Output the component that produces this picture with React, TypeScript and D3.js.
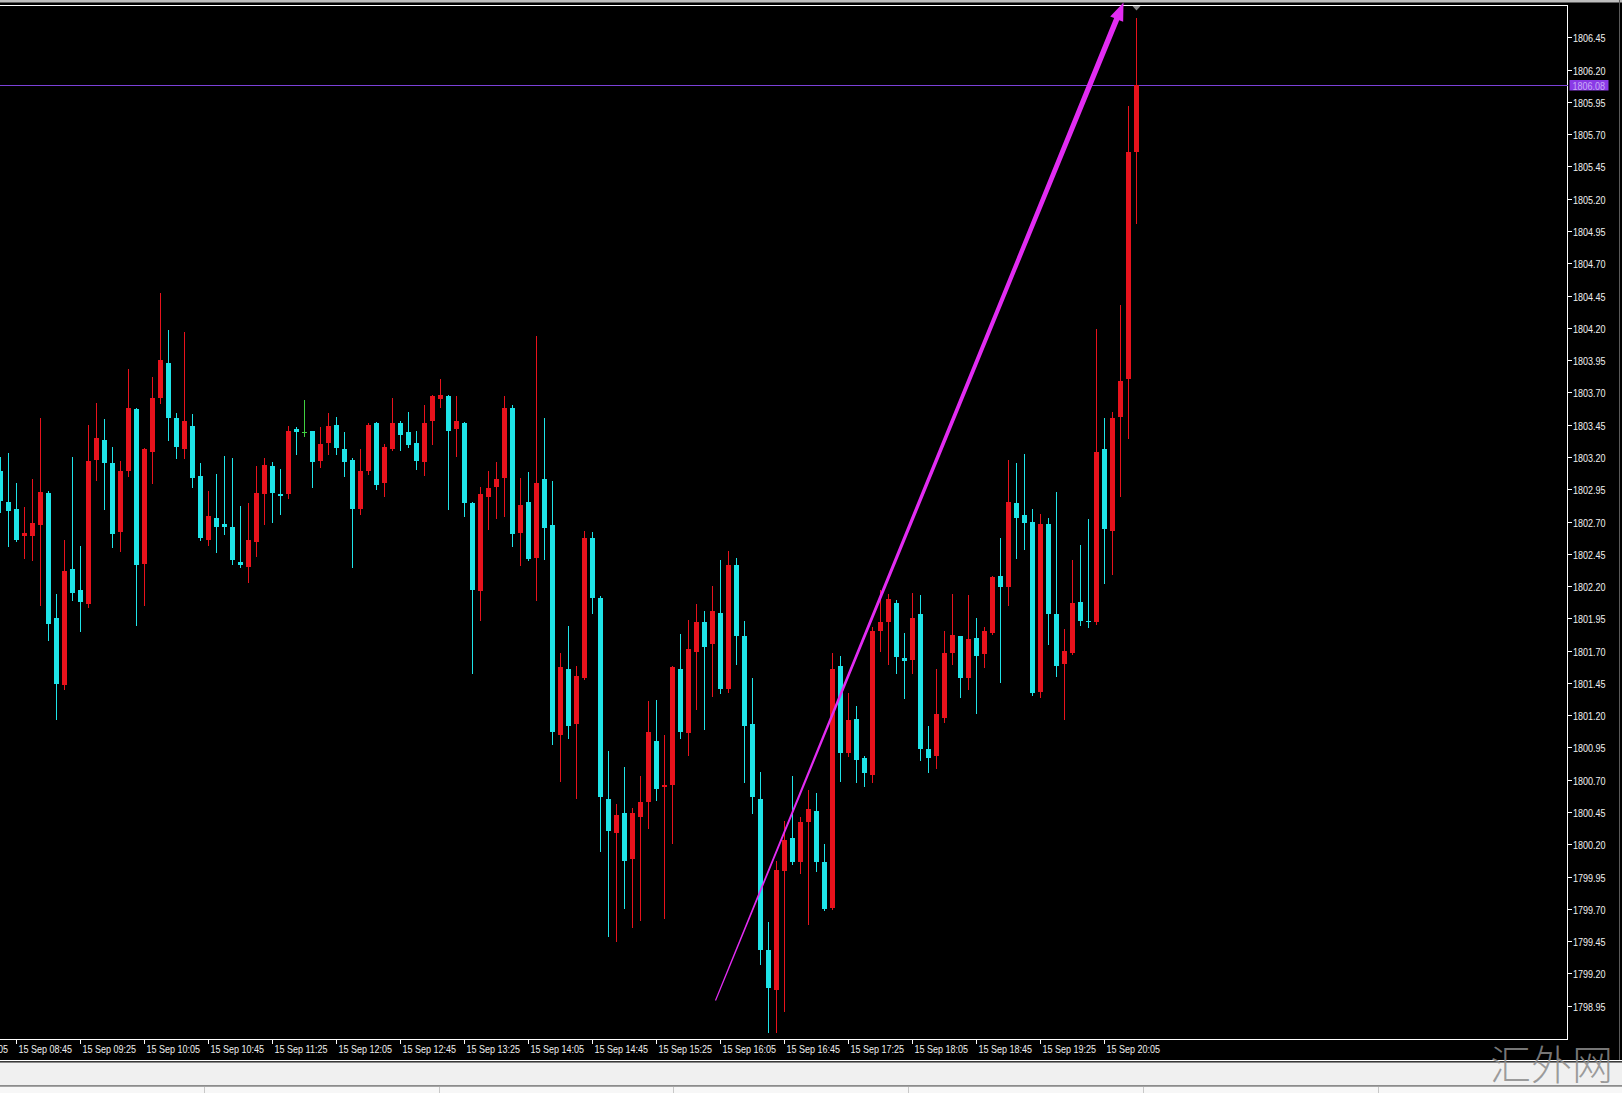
import React from "react";
import * as d3 from "d3";

// ---------- data (5-minute candles, 15 Sep) ----------
const times = [
  "08:35","08:40","08:45","08:50","08:55",
  "09:00","09:05","09:10","09:15","09:20","09:25","09:30","09:35","09:40","09:45","09:50","09:55",
  "10:00","10:05","10:10","10:15","10:20","10:25","10:30","10:35","10:40","10:45","10:50","10:55",
  "11:00","11:05","11:10","11:15","11:20","11:25","11:30","11:35","11:40","11:45","11:50","11:55",
  "12:00","12:05","12:10","12:15","12:20","12:25","12:30","12:35","12:40","12:45","12:50","12:55",
  "13:00","13:05","13:10","13:15","13:20","13:25","13:30","13:35","13:40","13:45","13:50","13:55",
  "14:00","14:05","14:10","14:15","14:20","14:25","14:30","14:35","14:40","14:45","14:50","14:55",
  "15:00","15:05","15:10","15:15","15:20","15:25","15:30","15:35","15:40","15:45","15:50","15:55",
  "16:00","16:05","16:10","16:15","16:20","16:25","16:30","16:35","16:40","16:45","16:50","16:55",
  "17:00","17:05","17:10","17:15","17:20","17:25","17:30","17:35","17:40","17:45","17:50","17:55",
  "18:00","18:05","18:10","18:15","18:20","18:25","18:30","18:35","18:40","18:45","18:50","18:55",
  "19:00","19:05","19:10","19:15","19:20","19:25","19:30","19:35","19:40","19:45","19:50","19:55",
  "20:00","20:05","20:10","20:15","20:20","20:25",
];

const opens = [
  1803.09, 1802.85, 1802.80, 1802.59, 1802.59,
  1802.67, 1802.92, 1801.95, 1801.43, 1802.33, 1802.17, 1802.06, 1803.18, 1803.33, 1803.15, 1802.62, 1803.09,
  1803.57, 1802.37, 1803.24, 1803.66, 1803.93, 1803.50, 1803.26, 1803.44, 1803.05, 1802.56, 1802.73, 1802.68,
  1802.66, 1802.39, 1802.35, 1802.54, 1802.91, 1803.13, 1802.91, 1802.91, 1803.42, 1803.39, 1803.40, 1803.17,
  1803.31, 1803.45, 1803.26, 1803.18, 1802.80, 1803.09, 1803.46, 1803.00, 1803.26, 1803.46, 1803.39, 1803.31,
  1803.16, 1803.48, 1803.65, 1803.67, 1803.42, 1803.46, 1802.84, 1802.16, 1802.89, 1802.97, 1803.04, 1803.58,
  1802.61, 1802.85, 1802.42, 1803.03, 1802.67, 1801.05, 1801.56, 1801.13, 1801.49, 1802.57, 1802.11, 1800.55,
  1800.29, 1800.44, 1800.09, 1800.41, 1800.53, 1801.00, 1800.64, 1800.66, 1801.56, 1801.06, 1801.69, 1801.92,
  1801.75, 1801.99, 1801.40, 1802.36, 1801.81, 1801.13, 1800.55, 1799.38, 1799.07, 1799.99, 1800.25, 1800.06,
  1800.37, 1800.46, 1800.06, 1799.71, 1801.58, 1800.91, 1801.17, 1800.87, 1800.74, 1801.85, 1801.92, 1802.07,
  1801.64, 1801.63, 1801.98, 1800.94, 1800.88, 1801.18, 1801.68, 1801.81, 1801.49, 1801.80, 1801.67, 1801.84,
  1802.28, 1802.19, 1802.84, 1802.75, 1802.70, 1801.38, 1802.68, 1801.98, 1801.60, 1801.68, 1802.08, 1801.93,
  1801.92, 1803.26, 1802.63, 1803.51, 1803.80, 1805.56,
];

const highs = [
  1803.20, 1803.23, 1803.00, 1802.81, 1803.03,
  1803.50, 1802.94, 1802.14, 1802.56, 1803.20, 1802.51, 1803.45, 1803.62, 1803.49, 1803.28, 1803.17, 1803.88,
  1803.58, 1803.27, 1803.82, 1804.47, 1804.18, 1803.54, 1804.17, 1803.53, 1803.15, 1802.94, 1803.07, 1803.21,
  1803.19, 1802.82, 1802.84, 1803.13, 1803.19, 1803.16, 1803.11, 1803.44, 1803.43, 1803.64, 1803.40, 1803.43,
  1803.54, 1803.51, 1803.39, 1803.19, 1803.26, 1803.46, 1803.47, 1803.30, 1803.66, 1803.48, 1803.55, 1803.40,
  1803.60, 1803.68, 1803.80, 1803.68, 1803.67, 1803.47, 1802.85, 1802.97, 1803.09, 1803.16, 1803.67, 1803.60,
  1803.04, 1803.08, 1804.14, 1803.50, 1803.01, 1801.68, 1801.89, 1801.58, 1802.63, 1802.62, 1802.12, 1800.92,
  1800.51, 1800.80, 1800.48, 1800.73, 1801.31, 1801.32, 1801.05, 1801.58, 1801.83, 1801.94, 1802.06, 1802.01,
  1802.20, 1802.40, 1802.47, 1802.42, 1801.93, 1801.49, 1800.76, 1799.60, 1800.07, 1800.38, 1800.73, 1800.41,
  1800.62, 1800.60, 1800.20, 1801.68, 1801.66, 1801.37, 1801.27, 1800.88, 1801.88, 1802.17, 1802.14, 1802.09,
  1801.84, 1802.15, 1802.13, 1801.12, 1801.56, 1801.85, 1802.14, 1801.81, 1802.13, 1801.95, 1801.88, 1802.28,
  1802.57, 1803.18, 1803.15, 1803.22, 1802.80, 1802.76, 1802.73, 1802.93, 1801.87, 1802.40, 1802.52, 1802.72,
  1804.19, 1803.50, 1803.55, 1804.38, 1805.92, 1806.60,
];

const lows = [
  1802.77, 1802.51, 1802.55, 1802.42, 1802.40,
  1802.05, 1801.78, 1801.17, 1801.40, 1802.09, 1801.85, 1802.04, 1803.02, 1802.80, 1802.50, 1802.47, 1803.05,
  1801.90, 1802.05, 1803.00, 1803.62, 1803.33, 1803.19, 1803.19, 1802.97, 1802.56, 1802.52, 1802.46, 1802.60,
  1802.37, 1802.35, 1802.23, 1802.43, 1802.68, 1802.70, 1802.76, 1802.88, 1803.22, 1803.36, 1802.97, 1803.12,
  1803.22, 1803.22, 1803.05, 1802.35, 1802.76, 1803.07, 1802.95, 1802.90, 1803.25, 1803.25, 1803.28, 1803.11,
  1803.06, 1803.30, 1803.59, 1802.80, 1803.21, 1802.74, 1801.53, 1801.94, 1802.64, 1802.73, 1802.74, 1802.51,
  1802.36, 1802.40, 1802.09, 1802.41, 1800.98, 1800.69, 1801.02, 1800.56, 1801.48, 1801.99, 1800.15, 1799.49,
  1799.45, 1799.71, 1799.56, 1799.61, 1800.33, 1800.54, 1799.63, 1800.21, 1801.02, 1800.89, 1801.25, 1801.09,
  1801.35, 1801.37, 1801.38, 1801.60, 1800.68, 1800.44, 1799.27, 1798.75, 1798.75, 1798.91, 1800.05, 1799.98,
  1799.58, 1799.99, 1799.69, 1799.70, 1800.69, 1800.88, 1800.68, 1800.65, 1800.68, 1801.70, 1801.60, 1801.53,
  1801.33, 1801.53, 1800.85, 1800.76, 1800.79, 1801.15, 1801.60, 1801.34, 1801.40, 1801.22, 1801.57, 1801.83,
  1801.46, 1802.05, 1802.42, 1802.49, 1801.36, 1801.34, 1801.75, 1801.50, 1801.17, 1801.67, 1801.90, 1801.88,
  1801.91, 1802.22, 1802.29, 1802.90, 1803.35, 1805.01,
];

const closes = [
  1802.86, 1802.78, 1802.56, 1802.61, 1802.69,
  1802.93, 1801.91, 1801.44, 1802.32, 1802.15, 1802.08, 1803.17, 1803.35, 1803.15, 1802.60, 1803.09, 1803.58,
  1802.36, 1803.26, 1803.66, 1803.95, 1803.50, 1803.28, 1803.48, 1803.04, 1802.57, 1802.74, 1802.66, 1802.66,
  1802.40, 1802.36, 1802.56, 1802.92, 1803.14, 1802.92, 1802.90, 1803.40, 1803.39, 1803.39, 1803.16, 1803.30,
  1803.44, 1803.27, 1803.16, 1802.80, 1803.09, 1803.45, 1802.98, 1803.28, 1803.46, 1803.37, 1803.29, 1803.17,
  1803.46, 1803.67, 1803.68, 1803.40, 1803.48, 1802.84, 1802.17, 1802.91, 1802.96, 1803.03, 1803.58, 1802.60,
  1802.83, 1802.41, 1803.00, 1802.65, 1801.07, 1801.57, 1801.12, 1801.50, 1802.57, 1802.11, 1800.57, 1800.30,
  1800.43, 1800.07, 1800.44, 1800.53, 1801.07, 1800.63, 1800.66, 1801.57, 1801.07, 1801.71, 1801.92, 1801.73,
  1802.01, 1801.40, 1802.36, 1801.81, 1801.12, 1800.57, 1799.38, 1799.09, 1800.00, 1800.23, 1800.06, 1800.37,
  1800.47, 1800.06, 1799.70, 1801.56, 1800.91, 1801.16, 1800.85, 1800.75, 1801.85, 1801.92, 1802.10, 1801.65,
  1801.62, 1801.95, 1800.94, 1800.87, 1801.21, 1801.68, 1801.82, 1801.49, 1801.79, 1801.66, 1801.85, 1802.27,
  1802.19, 1802.85, 1802.73, 1802.69, 1801.37, 1802.68, 1801.98, 1801.58, 1801.70, 1802.07, 1801.93, 1801.92,
  1803.24, 1802.64, 1803.50, 1803.79, 1805.56, 1806.08,
];

const priceTicks = [
  1806.45, 1806.20, 1805.95, 1805.70, 1805.45, 1805.20, 1804.95, 1804.70, 1804.45, 1804.20, 1803.95,
  1803.70, 1803.45, 1803.20, 1802.95, 1802.70, 1802.45, 1802.20, 1801.95, 1801.70, 1801.45, 1801.20,
  1800.95, 1800.70, 1800.45, 1800.20, 1799.95, 1799.70, 1799.45, 1799.20, 1798.95,
];

const timeTicks = [
  "08:05","08:45","09:25","10:05","10:45","11:25","12:05","12:45","13:25","14:05",
  "14:45","15:25","16:05","16:45","17:25","18:05","18:45","19:25","20:05",
];
const dateLabel = "15 Sep";
const currentPrice = 1806.08;
const arrowFrom = { time: "16:02", price: 1798.99 };
const arrowTo = { time: "20:17", price: 1806.72 };
const watermark = "汇外网";

// ---------- layout & style ----------
const W = 1622;
const H = 1093;
const PLOT_RIGHT = 1567.5;
const PLOT_TOP = 5.5;
const PLOT_BOTTOM = 1039.5;
const UP = "#e8121c";
const DOWN = "#1ee4e8";
const DOJI = "#40d040";
const ARROW = "#e22cf2";
const PRICE_LINE = "#7b41d8";
const TEXT = "#f0f0f0";
const FONT = "'Liberation Sans', Arial, sans-serif";
const statusSeparators = [204, 439, 673, 908, 1143, 1378];

const toMin = (s: string) => {
  const [h, m] = s.split(":").map(Number);
  return h * 60 + m;
};

export default function App() {
  const x = d3.scaleLinear().domain([toMin("08:45"), toMin("20:05")]).range([16.3, 1104.3]);
  const y = d3.scaleLinear().domain([1798.95, 1806.45]).range([1005.7, 37.3]);

  const candles = times.map((t, i) => ({
    t,
    o: opens[i],
    h: highs[i],
    l: lows[i],
    c: closes[i],
  }));

  // tapered arrow
  const ax0 = x(toMin(arrowFrom.time));
  const ay0 = y(arrowFrom.price);
  const ax1 = x(toMin(arrowTo.time));
  const ay1 = y(arrowTo.price);
  const dx = ax1 - ax0;
  const dy = ay1 - ay0;
  const len = Math.hypot(dx, dy);
  const ux = dx / len;
  const uy = dy / len;
  const nx = -uy;
  const ny = ux;
  const headLen = 18;
  const headHalf = 7;
  const w0 = 1.2;
  const w1 = 5.5;
  const bx = ax1 - ux * headLen;
  const by = ay1 - uy * headLen;
  const arrowPts = [
    [ax0 + (nx * w0) / 2, ay0 + (ny * w0) / 2],
    [bx + (nx * w1) / 2, by + (ny * w1) / 2],
    [bx + nx * headHalf, by + ny * headHalf],
    [ax1, ay1],
    [bx - nx * headHalf, by - ny * headHalf],
    [bx - (nx * w1) / 2, by - (ny * w1) / 2],
    [ax0 - (nx * w0) / 2, ay0 - (ny * w0) / 2],
  ];
  const arrowPath = (d3.line() as any)(arrowPts) + "Z";

  const cpY = Math.round(y(currentPrice)) + 0.5;
  const lastX = Math.floor(x(toMin(times[times.length - 1]))) + 0.5;

  return (
    <svg
      width={W}
      height={H}
      viewBox={`0 0 ${W} ${H}`}
      style={{ position: "absolute", left: 0, top: 0, display: "block" }}
    >
      <defs>
        <clipPath id="plotClip">
          <rect x={0} y={PLOT_TOP + 0.5} width={PLOT_RIGHT} height={PLOT_BOTTOM - PLOT_TOP - 1} />
        </clipPath>
      </defs>
      {/* window background */}
      <rect x={0} y={0} width={W} height={H} fill="#000" />
      <rect x={0} y={0} width={W} height={2.5} fill="#bdbdbd" />
      <line x1={W - 2.5} x2={W - 2.5} y1={0} y2={1060} stroke="#5a5a5a" strokeWidth={1} />

      {/* plot border */}
      <rect
        x={-1}
        y={PLOT_TOP}
        width={PLOT_RIGHT + 1}
        height={PLOT_BOTTOM - PLOT_TOP}
        fill="none"
        stroke="#ffffff"
        strokeWidth={1}
        shapeRendering="crispEdges"
      />

      {/* current price line */}
      <line x1={0} x2={PLOT_RIGHT} y1={cpY} y2={cpY} stroke={PRICE_LINE} strokeWidth={1} shapeRendering="crispEdges" />

      {/* candles */}
      <g clipPath="url(#plotClip)" shapeRendering="crispEdges">
        {candles.map((d) => {
          const px = Math.floor(x(toMin(d.t)));
          const color = d.c > d.o ? UP : d.c < d.o ? DOWN : DOJI;
          const top = Math.round(y(Math.max(d.o, d.c)));
          const bot = Math.round(y(Math.min(d.o, d.c)));
          return (
            <g key={d.t}>
              <line
                x1={px + 0.5}
                x2={px + 0.5}
                y1={Math.round(y(d.h))}
                y2={Math.round(y(d.l)) + 1}
                stroke={color}
                strokeWidth={1}
              />
              <rect x={px - 2} y={top} width={5} height={Math.max(1, bot - top)} fill={color} />
            </g>
          );
        })}
      </g>

      {/* arrow */}
      <path d={arrowPath} fill={ARROW} />

      {/* chart shift marker */}
      <path
        d={`M${lastX - 4},6 L${lastX + 4},6 L${lastX},10.5 Z`}
        fill="#8c8c8c"
      />

      {/* price axis */}
      <g fontFamily={FONT} fontSize={11} fill={TEXT}>
        {priceTicks.map((v) => {
          const yy = Math.round(y(v));
          return (
            <g key={v}>
              <line
                x1={PLOT_RIGHT}
                x2={PLOT_RIGHT + 4}
                y1={yy + 0.5}
                y2={yy + 0.5}
                stroke="#ffffff"
                strokeWidth={1}
                shapeRendering="crispEdges"
              />
              <g transform={`translate(${PLOT_RIGHT + 5.5},${yy + 4.5}) scale(0.82,1)`}>
                <text>{v.toFixed(2)}</text>
              </g>
            </g>
          );
        })}
        {/* current price tag */}
        <rect x={PLOT_RIGHT + 2} y={cpY - 5.5} width={39} height={10.5} fill="#8a3ae6" />
        <g transform={`translate(${PLOT_RIGHT + 5},${cpY + 4}) scale(0.82,1)`}>
          <text fill="#c8aaf6">{currentPrice.toFixed(2)}</text>
        </g>
      </g>

      {/* time axis */}
      <g fontFamily={FONT} fontSize={11} fill={TEXT}>
        {timeTicks.map((t) => {
          const xx = Math.floor(x(toMin(t))) + 0.5;
          return (
            <g key={t}>
              <line x1={xx} x2={xx} y1={PLOT_BOTTOM} y2={PLOT_BOTTOM + 4.5} stroke="#ffffff" strokeWidth={1} shapeRendering="crispEdges" />
              <g transform={`translate(${xx + 2},${1052.5}) scale(0.82,1)`}>
                <text>{`${dateLabel} ${t}`}</text>
              </g>
            </g>
          );
        })}
      </g>

      {/* bottom window frame / status bar */}
      <rect x={0} y={1060} width={W} height={1.2} fill="#ffffff" />
      <rect x={0} y={1061.5} width={W} height={1} fill="#404040" />
      <rect x={0} y={1062.5} width={W} height={23} fill="#f0f0f0" />
      <rect x={0} y={1085.5} width={W} height={1} fill="#a0a0a0" />
      <rect x={0} y={1086.5} width={W} height={H - 1086.5} fill="#f7f7f7" />
      {statusSeparators.map((sx) => (
        <line key={sx} x1={sx + 0.5} x2={sx + 0.5} y1={1087} y2={H} stroke="#c8c8c8" strokeWidth={1} />
      ))}

      {/* watermark */}
      <text
        x={1490}
        y={1080}
        fontFamily="'Noto Sans CJK SC', sans-serif"
        fontWeight={300}
        fontSize={41}
        fill="#8c8c8c"
        fillOpacity={0.85}
      >
        {watermark}
      </text>
    </svg>
  );
}
